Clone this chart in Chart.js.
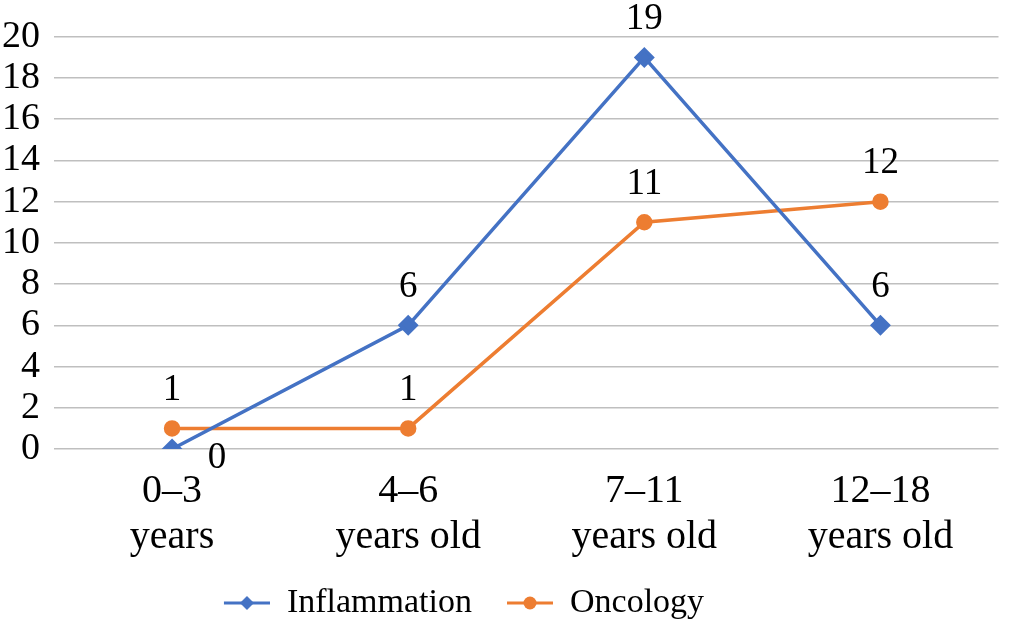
<!DOCTYPE html>
<html>
<head>
<meta charset="utf-8">
<script src="https://cdn.jsdelivr.net/npm/chart.js@4.4.1/dist/chart.umd.min.js"></script>
<style>
  html, body { margin: 0; padding: 0; background: #ffffff; }
  #wrap { width: 1010px; height: 632px; }
</style>
</head>
<body>
<div id="wrap"><canvas id="chart"></canvas></div>
<script>
// Data
const categories = [['0\u20133', 'years'], ['4\u20136', 'years old'], ['7\u201311', 'years old'], ['12\u201318', 'years old']];
const inflammation = [0, 6, 19, 6];
const oncology = [1, 1, 11, 12];
const yTicks = { min: 0, max: 20, step: 2 };

const BLUE = '#4472C4';
const ORANGE = '#ED7D31';
const FONT = '"Liberation Serif", "DejaVu Serif", serif';

// label placement: above the point, except the first blue one (below right)
const labelOffset = { dx: 0, dy: -38 };
const labelOverride = [{ ds: 0, idx: 0, dx: 45, dy: 9 }];

// legend symbol: short line with the marker on it (blank lead gives the item gap)
const LEAD = 28;
function legendSymbol(color, shape) {
    const c = document.createElement('canvas');
    c.width = LEAD + 46; c.height = 18;
    const g = c.getContext('2d');
    const mid = LEAD + 23;
    g.strokeStyle = color;
    g.lineWidth = 3;
    g.beginPath(); g.moveTo(LEAD, 9); g.lineTo(LEAD + 46, 9); g.stroke();
    g.fillStyle = color;
    g.beginPath();
    if (shape === 'diamond') {
        g.moveTo(mid, 2); g.lineTo(mid + 7, 9); g.lineTo(mid, 16); g.lineTo(mid - 7, 9);
    } else {
        g.arc(mid, 9, 6.5, 0, Math.PI * 2);
    }
    g.closePath(); g.fill();
    return c;
}

// simple value labels next to each point
const valueLabels = {
    id: 'valueLabels',
    afterLayout(chart) {
        // legend sits a bit left of centre in the reference
        if (chart.legend) { chart.legend.left -= 57; chart.legend.right -= 57; }
    },
    afterDatasetsDraw(chart) {
        const ctx = chart.ctx;
        ctx.save();
        ctx.font = '37px ' + FONT;
        ctx.fillStyle = '#000';
        ctx.textAlign = 'center';
        ctx.textBaseline = 'middle';
        chart.data.datasets.forEach((ds, i) => {
            chart.getDatasetMeta(i).data.forEach((pt, j) => {
                let dx = labelOffset.dx, dy = labelOffset.dy;
                const o = labelOverride.find(e => e.ds === i && e.idx === j);
                if (o) { dx = o.dx; dy = o.dy; }
                ctx.fillText(String(ds.data[j]), pt.x + dx, pt.y + dy);
            });
        });
        ctx.restore();
    }
};

new Chart(document.getElementById('chart'), {
    type: 'line',
    data: {
        labels: categories,
        datasets: [
            {
                label: 'Inflammation',
                data: inflammation,
                borderColor: BLUE,
                backgroundColor: BLUE,
                borderWidth: 3.5,
                pointStyle: 'rectRot',
                pointRadius: 8,
                pointHoverRadius: 8,
                tension: 0
            },
            {
                label: 'Oncology',
                data: oncology,
                borderColor: ORANGE,
                backgroundColor: ORANGE,
                borderWidth: 3.5,
                pointStyle: 'circle',
                pointRadius: 6.5,
                pointHoverRadius: 6.5,
                tension: 0
            }
        ]
    },
    options: {
        responsive: true,
        maintainAspectRatio: false,
        animation: false,
        layout: { padding: { top: 26, right: -4, left: 0, bottom: 2 } },
        scales: {
            x: {
                offset: true,
                grid: { display: false, drawTicks: false },
                border: { display: false },
                ticks: {
                    color: '#000',
                    font: { family: FONT, size: 40, lineHeight: 1.15 },
                    padding: 19,
                    maxRotation: 0,
                    autoSkip: false
                }
            },
            y: {
                min: yTicks.min,
                max: yTicks.max,
                afterFit(scale) { scale.width = 54; },
                grid: { color: '#BFBFBF', lineWidth: 1.5, drawTicks: false },
                border: { display: false },
                ticks: {
                    stepSize: yTicks.step,
                    autoSkip: false,
                    color: '#000',
                    font: { family: FONT, size: 38 },
                    padding: 14
                }
            }
        },
        plugins: {
            legend: {
                position: 'bottom',
                labels: {
                    color: '#000',
                    font: { family: FONT, size: 34 },
                    usePointStyle: true,
                    pointStyleWidth: LEAD + 46,
                    padding: 7,
                    generateLabels(chart) {
                        return chart.data.datasets.map((ds, i) => ({
                            text: ds.label,
                            pointStyle: legendSymbol(ds.borderColor, i === 0 ? 'diamond' : 'circle'),
                            fillStyle: ds.borderColor,
                            strokeStyle: ds.borderColor,
                            lineWidth: 0,
                            datasetIndex: i
                        }));
                    }
                }
            },
            tooltip: { enabled: false }
        }
    },
    plugins: [valueLabels]
});
</script>
</body>
</html>
